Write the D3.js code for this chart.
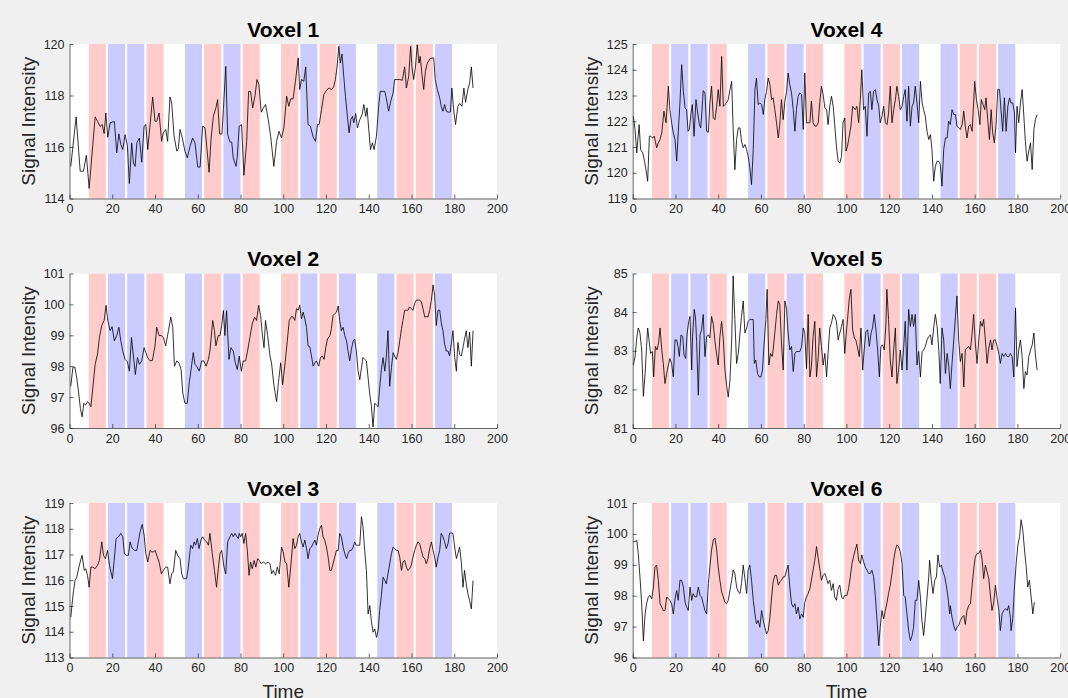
<!DOCTYPE html>
<html>
<head>
<meta charset="utf-8">
<script src="https://cdn.jsdelivr.net/npm/d3@7"></script>
<style>
  body { margin: 0; background: #f0f0f0; }
  svg { display: block; font-family: "Liberation Sans", Arial, Helvetica, sans-serif; }
</style>
</head>
<body>
<div id="chart"></div>
<script>
// panel titles and y axis settings (voxels 1-3 left column, 4-6 right column)
var titles = ["Voxel 1", "Voxel 2", "Voxel 3", "Voxel 4", "Voxel 5", "Voxel 6"];
var yDomains = [[114, 120], [96, 101], [113, 119], [119, 125], [81, 85], [96, 101]];
var yTicks = [
  [114, 116, 118, 120],
  [96, 97, 98, 99, 100, 101],
  [113, 114, 115, 116, 117, 118, 119],
  [119, 120, 121, 122, 123, 124, 125],
  [81, 82, 83, 84, 85],
  [96, 97, 98, 99, 100, 101]
];
var timeDomain = [0, 200];
var timeTicks = [0, 20, 40, 60, 80, 100, 120, 140, 160, 180, 200];

// stimulus blocks: start time, length and condition ("r" = red, "b" = blue)
var blockStarts = [9, 18, 27, 36, 54, 63, 72, 81, 99, 108, 117, 126, 144, 153, 162, 171];
var blockTypes = ["r", "b", "b", "r", "b", "r", "b", "r", "r", "b", "r", "b", "b", "r", "r", "b"];
var blockLength = 8;

// time series, [time, signal] pairs
var voxel1 = [[0.6,115.25],[3.1,117.17],[5.0,115.06],[6.5,115.06],[7.9,115.68],[9.2,114.39],[12.0,117.17],[13.1,117.0],[14.3,116.8],[15.3,116.87],[16.2,116.52],[17.0,117.32],[17.9,116.38],[19.0,116.94],[21.0,116.99],[22.1,115.77],[23.1,116.51],[24.0,116.1],[24.9,115.9],[26.0,116.48],[27.1,116.03],[28.0,114.58],[29.1,116.16],[29.9,115.38],[30.7,115.25],[31.5,116.16],[32.7,116.35],[33.8,115.41],[34.9,116.81],[35.7,116.87],[36.6,115.9],[37.7,116.87],[38.9,117.94],[40.0,117.0],[40.8,117.0],[41.9,117.32],[43.1,116.22],[43.9,116.55],[45.0,116.68],[45.9,116.22],[47.0,117.94],[47.8,117.71],[48.9,116.44],[50.2,115.84],[50.9,115.93],[51.7,116.68],[52.8,116.35],[54.0,115.84],[55.1,115.58],[56.4,116.03],[57.6,116.35],[58.7,116.16],[60.0,115.22],[61.1,115.22],[62.3,116.81],[63.4,116.74],[64.2,116.03],[65.3,115.02],[66.2,116.29],[67.3,117.19],[68.5,117.52],[69.3,117.84],[70.2,116.51],[71.3,116.5],[72.0,117.45],[73.1,119.13],[74.0,116.48],[75.1,116.19],[75.9,116.19],[76.6,115.58],[77.9,115.25],[78.5,115.64],[79.4,116.81],[80.5,116.87],[81.6,114.9],[82.9,116.22],[83.8,118.16],[84.7,118.16],[85.7,117.52],[86.8,118.0],[87.7,118.62],[88.6,118.42],[89.7,117.35],[90.7,117.52],[91.7,117.65],[93.0,117.06],[94.1,116.42],[95.6,115.25],[96.9,116.22],[98.0,116.61],[99.2,116.35],[100.3,116.74],[101.6,117.97],
  [102.6,117.58],[103.5,117.87],[104.6,117.87],[105.7,118.55],[107.0,119.46],[107.7,118.23],[108.5,118.62],[109.6,118.55],[110.5,119.11],[111.6,116.87],[112.7,116.81],[114.0,116.38],[115.1,116.22],[116.0,116.87],[116.8,116.87],[117.9,117.45],[119.0,118.03],[119.9,118.16],[120.5,118.23],[121.5,118.29],[122.5,118.23],[123.6,118.33],[124.4,118.62],[125.2,119.13],[126.0,119.91],[126.7,119.26],[127.5,119.61],[128.3,118.75],[129.1,117.97],[130.0,117.19],[130.8,116.55],[131.6,117.06],[132.4,117.19],[133.0,116.94],[133.9,117.3],[134.7,116.74],[135.8,117.06],[136.9,117.26],[137.7,117.65],[138.6,117.19],[139.2,117.52],[140.0,116.68],[140.8,115.9],[141.7,116.16],[142.5,115.9],[143.6,116.42],[144.7,117.65],[145.4,118.16],[147.5,118.16],[148.2,117.9],[149.3,117.39],[150.3,117.78],[151.4,118.1],[152.1,118.62],[153.2,118.62],[154.5,118.62],[155.7,118.59],[156.8,119.11],[157.6,118.29],[158.7,118.75],[159.6,119.91],[160.2,119.13],[161.0,118.62],[161.8,119.07],[162.7,119.97],[163.5,119.26],[164.1,119.52],[164.9,118.81],[165.7,118.23],[166.5,118.94],[167.4,119.26],[168.8,119.44],[170.4,119.46],[171.1,118.62],[172.1,118.23],[173.2,117.9],[173.9,117.58],[174.7,117.39],[175.5,117.65],[176.3,117.39],[177.4,117.35],[178.2,117.36],[178.9,118.29],[179.7,117.45],[180.6,116.87],[181.7,117.58],[182.5,117.69],[183.6,117.58],[184.5,118.29],[185.3,117.74],[186.4,118.25],[187.2,118.49],[188.0,119.11],[188.8,118.29]];

var voxel2 = [[0.6,97.35],[1.6,97.97],[2.5,97.97],[3.4,97.62],[4.4,97.07],[5.1,96.63],[5.9,96.36],[6.7,96.8],[7.5,96.74],[8.4,96.85],[9.2,96.8],[10.0,96.69],[10.9,97.29],[12.0,98.06],[13.1,98.39],[14.0,98.93],[15.1,99.32],[16.2,99.48],[17.1,99.97],[17.9,99.48],[19.0,99.15],[19.9,99.28],[21.0,98.82],[22.1,98.99],[23.1,99.26],[24.0,98.82],[24.9,98.49],[26.0,98.22],[27.1,98.14],[28.0,97.84],[29.0,98.93],[29.9,98.33],[30.8,97.73],[31.8,98.28],[32.7,98.06],[33.8,98.17],[34.9,98.6],[35.7,98.44],[36.6,98.28],[37.7,98.17],[38.8,98.19],[40.0,98.66],[40.8,99.26],[41.9,98.99],[43.1,98.99],[43.9,98.93],[45.0,98.66],[46.3,99.15],[47.4,99.59],[48.3,99.26],[49.1,98.0],[50.2,98.17],[51.2,98.11],[52.2,97.89],[53.0,97.13],[54.0,96.8],[55.1,96.8],[56.1,97.51],[57.2,98.06],[57.9,98.44],[58.7,98.06],[59.5,98.0],[60.7,97.84],[61.8,98.17],[62.9,98.17],[63.9,98.0],[65.0,98.22],[65.7,98.49],[67.0,99.48],[67.8,99.15],[68.5,98.66],[69.6,98.99],[70.4,98.99],[71.2,99.32],[72.0,99.8],[72.7,98.99],[73.5,99.8],[74.6,98.22],[75.5,98.6],[76.6,98.49],[77.6,98.11],[78.5,97.89],[79.4,98.33],[80.4,97.84],[81.3,98.17],[82.4,98.17],[83.3,98.49],[84.4,98.93],[85.5,99.37],[86.6,99.59],[87.5,99.48],[88.5,99.97],[89.4,99.64],[90.2,99.04],[91.0,98.6],[91.7,99.48],[92.7,98.99],[93.8,98.33],[94.5,98.11],[95.6,97.4],[96.9,96.85],[97.8,97.51],[98.8,98.11],[99.7,97.4],[100.8,98.06],[101.9,98.82],
  [102.8,99.48],[103.9,99.61],[104.6,99.59],[105.4,99.48],[106.2,99.86],[107.0,99.81],[107.7,99.97],[108.5,99.53],[109.3,99.75],[110.1,99.53],[110.9,99.26],[111.6,98.66],[112.4,98.63],[113.2,98.33],[114.0,98.0],[114.8,98.11],[115.5,98.17],[116.6,98.0],[117.4,98.28],[118.3,98.33],[119.1,98.22],[119.9,98.6],[120.7,98.88],[121.8,98.99],[122.5,99.21],[123.3,99.64],[124.1,99.7],[124.9,99.75],[125.7,99.95],[126.4,99.48],[127.2,99.15],[128.0,99.26],[128.8,98.99],[129.6,98.82],[130.3,98.49],[131.1,98.17],[131.9,98.55],[132.7,98.82],[133.4,98.88],[134.2,98.49],[135.0,97.84],[135.8,97.56],[136.6,97.95],[137.3,98.28],[138.1,98.22],[138.9,98.17],[139.7,97.62],[140.5,97.07],[141.2,96.74],[142.0,96.03],[142.8,96.8],[143.6,96.74],[144.4,96.69],[145.1,97.29],[145.9,97.89],[146.7,98.28],[147.5,97.84],[148.2,98.28],[149.0,99.15],[149.8,97.35],[150.6,97.95],[151.4,98.44],[152.1,98.33],[152.9,98.22],[153.7,98.44],[154.5,98.82],[155.3,99.21],[156.0,99.48],[156.8,99.81],[157.6,99.81],[158.4,99.81],[159.1,99.92],[159.9,99.86],[160.7,99.81],[161.5,100.03],[162.3,100.14],[163.0,100.14],[163.8,100.14],[164.6,100.08],[165.4,99.86],[166.2,99.59],[166.9,99.61],[167.7,99.59],[168.5,99.81],[169.3,100.14],[170.1,100.63],[170.8,100.3],[171.6,99.32],[172.4,99.81],[173.2,99.81],[173.9,99.42],[174.7,99.15],[175.5,98.71],[176.3,98.49],[177.1,98.49],[177.8,98.33],[178.6,98.71],[179.4,99.15],[180.2,98.28],[181.0,97.84],[181.7,98.77],[182.5,98.39],[183.3,98.33],[184.1,98.6],[184.8,98.88],[185.6,99.15],[186.4,98.6],[187.2,99.1],[188.0,98.0],[188.8,99.15]];

var voxel3 = [[0.6,114.56],[1.2,115.08],[1.9,115.6],[2.6,115.99],[3.4,116.12],[4.4,116.51],[5.0,116.71],[5.9,116.97],[6.9,116.38],[7.6,116.45],[8.4,116.19],[9.2,115.73],[10.0,116.51],[10.9,116.51],[12.0,116.45],[13.1,116.58],[14.0,116.77],[15.1,117.49],[15.9,116.97],[16.8,116.84],[17.8,117.16],[18.7,116.58],[20.1,116.06],[20.9,116.77],[21.8,117.62],[22.9,117.69],[24.0,117.82],[24.9,117.69],[25.7,117.03],[26.5,116.97],[27.6,116.97],[28.3,117.49],[29.4,117.23],[30.5,117.16],[31.5,117.16],[32.2,117.49],[33.0,117.88],[34.0,118.17],[34.9,117.75],[35.7,117.03],[36.6,116.71],[37.7,117.16],[38.5,117.1],[39.3,117.1],[40.0,117.16],[40.8,116.97],[41.9,116.71],[43.0,116.25],[43.9,116.38],[45.0,116.51],[45.9,116.51],[47.0,115.86],[47.8,116.25],[48.6,116.32],[49.7,117.16],[50.6,116.97],[51.7,116.84],[52.5,116.25],[53.3,116.06],[54.0,116.06],[54.8,116.06],[55.6,116.51],[56.7,117.36],[57.6,117.23],[58.3,117.49],[59.0,117.36],[59.8,117.62],[60.6,117.23],[61.5,117.56],[62.3,117.69],[63.2,117.56],[64.2,117.49],[65.0,117.36],[65.7,117.82],[66.8,117.03],[67.8,116.38],[68.8,115.73],[69.6,116.45],[70.4,117.03],[71.2,117.16],[72.3,116.51],[73.1,116.25],[74.0,117.49],[75.1,117.69],[75.9,117.82],[76.6,117.69],[77.4,117.82],[78.2,117.71],[79.0,117.62],[79.4,117.82],[80.1,117.69],[80.8,117.82],[81.6,117.43],[82.4,117.82],[83.2,117.16],[84.0,116.19],[84.7,116.71],[85.5,116.45],[86.4,116.77],[87.2,116.51],[88.0,116.84],[88.8,116.77],[89.7,116.64],[90.7,116.71],[91.7,116.64],[93.0,116.71],[93.8,116.64],[94.6,116.25],[95.3,116.38],[96.4,116.19],[97.2,116.51],[98.1,116.25],[99.2,117.29],[100.0,117.1],[100.8,116.71],[101.6,116.64],
  [102.6,115.73],[103.5,116.51],[104.6,117.62],[105.4,117.23],[106.2,117.36],[107.0,117.69],[107.7,117.82],[108.5,117.49],[109.3,117.29],[110.1,117.56],[110.9,117.23],[111.6,116.84],[112.4,117.23],[113.2,117.29],[114.0,117.43],[114.8,117.56],[115.5,117.36],[116.3,117.75],[117.1,118.01],[117.9,118.14],[118.6,117.69],[119.4,117.56],[120.2,117.29],[121.0,116.9],[121.8,116.38],[122.5,116.38],[123.3,116.64],[124.1,116.9],[124.9,117.16],[125.7,117.16],[126.4,117.82],[127.2,117.69],[128.0,117.29],[128.8,117.03],[129.6,116.84],[130.3,117.03],[131.1,117.16],[131.9,117.16],[132.7,117.29],[133.4,117.49],[134.2,117.36],[135.0,117.36],[135.8,117.36],[136.6,118.47],[137.3,118.08],[138.1,117.16],[138.9,116.38],[139.7,114.69],[140.5,115.02],[141.2,114.43],[142.0,113.98],[142.8,114.11],[143.6,113.78],[144.4,114.04],[145.1,114.82],[145.9,115.41],[146.7,116.12],[147.5,115.99],[148.2,115.86],[149.0,116.25],[149.8,116.64],[150.6,117.03],[151.4,117.29],[152.1,117.23],[152.9,117.16],[153.7,117.16],[154.5,116.9],[155.3,116.38],[156.0,116.71],[156.8,116.77],[157.6,116.51],[158.4,116.38],[159.1,116.45],[159.9,116.58],[160.7,116.9],[161.5,117.16],[162.3,117.36],[163.0,117.49],[163.8,117.43],[164.6,117.16],[165.4,116.9],[166.2,116.84],[166.9,116.64],[167.7,116.84],[168.5,117.23],[169.3,117.49],[170.1,117.16],[170.8,116.9],[171.6,116.51],[172.4,116.9],[173.2,117.16],[173.9,117.82],[174.7,117.69],[175.5,117.49],[176.3,117.23],[177.1,117.43],[177.8,117.82],[178.6,117.84],[179.4,117.82],[180.2,117.29],[181.0,116.84],[181.7,117.03],[182.5,117.29],[183.3,116.71],[184.1,115.73],[184.8,116.38],[185.6,115.86],[186.4,115.47],[187.2,115.21],[188.0,114.89],[188.8,115.99]];

var voxel4 = [[0.3,122.19],[1.1,121.68],[1.9,120.77],[3.0,121.87],[3.7,120.9],[4.7,120.77],[5.5,120.45],[6.2,120.12],[7.0,119.67],[7.8,121.42],[8.4,121.42],[9.3,121.35],[10.1,121.42],[11.2,120.97],[12.0,121.16],[12.8,121.29],[13.6,121.55],[14.6,122.39],[15.6,121.94],[16.7,123.36],[17.4,122.45],[18.2,121.94],[19.0,121.55],[19.8,121.29],[20.6,120.45],[21.3,121.55],[22.1,122.71],[22.9,124.2],[23.7,123.16],[24.5,122.52],[25.2,122.45],[25.9,121.61],[26.5,121.68],[27.3,122.32],[27.9,122.65],[28.7,121.42],[29.6,122.84],[30.4,122.32],[31.2,121.87],[31.8,121.74],[32.4,122.39],[33.0,123.19],[33.8,123.1],[34.6,121.61],[35.4,121.57],[36.1,122.71],[36.9,123.36],[37.7,122.13],[38.5,122.06],[39.3,122.58],[40.0,123.23],[40.8,122.58],[41.6,124.52],[42.4,122.58],[43.1,122.65],[43.9,122.71],[44.7,122.84],[45.5,123.23],[46.3,123.55],[47.0,121.68],[47.8,120.12],[48.6,121.29],[49.4,121.74],[50.2,121.74],[50.9,121.22],[51.7,120.97],[52.5,121.1],[53.3,120.9],[54.0,120.64],[54.8,120.19],[55.6,119.54],[56.4,120.9],[57.2,123.23],[57.9,123.68],[58.7,122.65],[59.5,122.71],[60.3,122.65],[61.1,122.26],[61.8,122.84],[62.6,123.16],[63.4,123.68],[64.2,123.42],[65.0,122.84],[65.7,122.91],[66.5,122.45],[67.3,121.94],[68.1,121.35],[68.8,121.87],[69.6,122.84],[70.4,122.06],[71.2,122.78],[72.0,123.16],[72.7,123.87],[73.5,123.42],[74.3,123.1],[75.1,122.45],[75.9,121.61],[76.6,122.45],[77.4,122.97],[78.2,123.1],[79.0,123.03],[79.8,121.68],[80.5,123.87],[81.3,121.94],[82.1,121.94],[82.9,121.94],[83.6,122.78],[84.4,121.94],[85.2,121.81],[86.0,121.81],[86.8,121.94],[87.5,122.71],[88.3,123.36],[89.1,123.03],[89.9,122.52],[90.7,122.45],[91.4,121.87],[92.2,122.58],[93.0,122.97],[93.8,122.58],[94.5,121.87],[95.3,121.03],[96.1,120.45],[96.9,120.38],[97.7,120.64],[98.4,121.94],[99.2,122.13],
  [99.8,120.84],[100.5,121.03],[101.3,121.42],[102.1,121.81],[102.9,122.58],[104.1,122.45],[104.9,122.58],[105.7,121.94],[106.5,122.84],[107.2,124.0],[108.0,122.45],[108.8,122.58],[109.6,121.42],[110.4,123.1],[111.2,123.16],[111.9,122.45],[112.7,123.16],[113.5,123.23],[114.3,122.84],[115.1,122.58],[115.8,121.94],[116.6,122.19],[117.4,122.58],[118.2,121.94],[119.0,121.87],[119.7,122.32],[120.5,123.36],[121.3,121.94],[122.1,122.45],[122.9,122.84],[123.6,123.36],[124.4,122.97],[125.2,122.45],[126.0,122.58],[126.8,122.97],[127.5,123.23],[128.3,122.0],[129.1,123.36],[129.9,121.81],[130.7,122.58],[131.4,122.71],[132.2,123.36],[133.0,122.71],[133.8,121.94],[134.6,123.55],[135.4,122.71],[136.1,122.45],[136.9,122.19],[137.7,121.61],[138.5,121.29],[139.3,121.48],[140.0,120.9],[140.8,119.67],[141.6,120.25],[142.4,120.45],[143.2,120.45],[143.9,120.32],[144.7,119.48],[145.5,120.9],[146.3,121.35],[147.1,121.35],[147.8,122.0],[148.6,121.87],[149.4,122.45],[150.2,122.26],[151.0,122.26],[151.7,121.81],[152.5,121.74],[153.3,121.68],[154.1,121.87],[154.9,122.39],[155.6,121.81],[156.4,121.35],[157.2,121.81],[158.0,121.87],[158.8,121.61],[159.5,122.71],[160.0,123.55],[160.8,122.84],[161.6,122.45],[162.4,121.87],[163.1,122.84],[163.9,122.65],[164.7,122.45],[165.3,122.91],[166.1,122.06],[166.9,121.29],[167.7,122.45],[168.4,121.55],[169.2,121.16],[170.0,121.87],[170.8,123.23],[171.6,123.23],[172.3,122.45],[173.1,121.61],[173.9,122.91],[174.7,121.61],[175.5,122.58],[176.3,122.91],[177.0,122.71],[177.8,122.71],[178.6,122.32],[179.1,120.77],[179.8,122.58],[180.6,121.94],[181.4,122.71],[182.2,123.23],[183.0,122.19],[183.7,121.22],[184.5,120.45],[185.3,120.84],[186.1,121.16],[186.9,120.12],[187.7,121.68],[188.4,122.06],[189.2,122.26]];

var voxel5 = [[0.3,82.63],[1.1,82.85],[1.9,83.33],[2.6,83.59],[3.4,83.46],[4.2,83.02],[5.0,81.82],[5.8,82.41],[6.5,83.11],[7.0,83.59],[7.8,83.2],[8.4,82.93],[9.2,82.98],[9.8,82.32],[10.6,83.11],[11.4,83.02],[12.1,83.2],[12.8,83.59],[13.6,83.02],[14.3,82.67],[15.1,82.15],[15.9,82.41],[16.7,82.63],[17.4,82.8],[18.2,82.67],[19.0,82.32],[19.8,83.28],[20.6,83.28],[21.2,83.11],[21.8,82.85],[22.6,83.41],[23.4,83.37],[24.0,82.89],[24.8,82.8],[25.4,83.41],[26.2,83.76],[26.8,83.89],[27.6,82.5],[28.0,83.37],[28.8,84.07],[29.4,83.85],[29.9,83.24],[30.7,81.85],[31.5,83.41],[32.2,83.54],[33.0,83.94],[33.8,82.85],[34.6,83.37],[35.4,83.41],[36.1,83.33],[36.9,83.89],[37.7,83.68],[38.5,83.24],[39.3,82.89],[40.0,82.63],[40.8,83.37],[41.6,83.76],[42.4,83.28],[43.1,82.54],[43.9,82.11],[44.7,81.8],[45.5,82.24],[46.3,83.28],[47.0,84.94],[47.8,83.81],[48.6,82.67],[49.4,82.93],[50.2,83.46],[50.9,83.89],[51.7,84.29],[52.5,83.46],[53.3,83.59],[54.0,83.76],[54.8,83.81],[55.6,83.81],[56.4,83.81],[56.9,82.67],[57.6,82.76],[58.4,82.41],[59.2,82.32],[60.0,82.32],[60.7,82.5],[61.5,83.2],[62.3,83.81],[62.9,84.59],[63.7,82.63],[64.5,82.93],[65.3,82.85],[65.7,83.02],[66.5,83.46],[67.3,83.94],[68.1,84.29],[68.8,84.2],[69.6,83.2],[70.4,82.5],[71.2,84.29],[72.0,84.07],[72.7,83.46],[73.5,83.02],[74.3,83.11],[75.1,82.46],[75.9,82.93],[76.6,82.98],[77.4,82.98],[78.2,82.98],[79.0,83.11],[79.8,83.59],[80.5,83.46],[81.3,82.54],[82.1,83.94],[82.9,82.32],[83.6,82.59],[84.4,83.37],[85.2,83.76],[86.0,82.32],[86.8,82.85],[87.5,83.59],[88.3,83.11],[89.1,82.63],[89.9,82.93],[90.7,82.32],[91.4,82.93],[92.2,83.59],[93.0,83.72],[93.8,83.94],[94.5,83.89],[95.3,83.76],[96.1,83.28],[96.9,83.46],[97.7,83.63],[98.4,83.81],[99.2,82.93],
  [99.8,83.37],[100.5,83.81],[101.3,84.33],[102.1,84.59],[102.9,83.54],[103.7,83.33],[104.4,83.28],[105.2,83.07],[106.0,82.85],[106.8,83.59],[107.6,82.5],[108.3,83.02],[109.1,83.5],[109.9,83.54],[110.7,83.11],[111.5,83.46],[112.2,83.59],[113.0,83.94],[113.8,83.54],[114.6,83.02],[115.4,82.32],[116.1,83.11],[116.9,83.15],[117.7,83.02],[118.5,83.72],[118.9,84.59],[119.7,83.81],[120.5,82.76],[121.3,82.32],[122.1,83.02],[122.9,83.59],[123.6,82.15],[124.4,82.5],[125.2,83.02],[126.0,82.5],[126.8,83.11],[127.5,83.76],[128.3,82.5],[129.1,84.07],[129.9,83.63],[130.7,83.94],[131.4,83.63],[132.2,83.94],[133.0,82.63],[133.8,82.98],[134.6,82.32],[135.4,82.98],[136.1,83.02],[136.9,83.11],[137.7,83.28],[138.5,83.37],[139.3,83.41],[140.0,83.15],[140.8,83.59],[141.6,83.94],[142.4,83.63],[143.2,83.02],[143.9,82.15],[144.7,83.59],[145.5,83.28],[146.3,82.41],[147.1,82.93],[147.8,82.63],[148.6,82.02],[149.4,82.67],[150.2,83.28],[151.0,83.89],[151.7,84.42],[152.5,83.28],[153.3,82.72],[154.1,82.93],[154.9,82.06],[155.6,83.02],[156.4,83.07],[157.2,83.11],[158.0,83.02],[158.8,83.46],[159.5,83.94],[160.3,83.2],[161.1,82.67],[161.9,83.28],[162.7,83.76],[163.5,83.63],[164.2,83.81],[165.0,83.28],[165.8,82.67],[166.6,83.07],[167.4,83.28],[168.1,83.02],[168.9,83.28],[169.7,83.28],[170.5,83.11],[171.3,82.93],[172.0,82.67],[172.8,82.93],[173.6,82.85],[174.4,82.93],[175.2,82.85],[175.9,82.85],[176.7,82.93],[177.5,82.85],[178.3,82.32],[179.1,84.11],[179.8,82.59],[180.6,83.02],[181.4,83.28],[182.2,82.85],[183.0,82.02],[183.7,82.46],[184.5,82.37],[185.3,82.85],[186.1,83.02],[186.9,83.15],[187.7,83.46],[188.4,82.89],[189.2,82.5]];

var voxel6 = [[0.3,99.75],[1.1,99.75],[1.9,99.8],[2.6,99.37],[3.4,98.61],[4.2,97.74],[5.0,96.54],[5.8,97.41],[6.5,97.74],[7.3,97.96],[8.1,98.01],[8.9,97.9],[9.7,98.28],[10.4,98.93],[11.2,98.99],[12.0,98.5],[12.8,97.74],[13.6,97.63],[14.3,97.52],[15.1,97.52],[15.9,97.96],[16.7,97.9],[17.4,97.85],[18.2,97.74],[19.0,97.41],[19.8,97.9],[20.6,98.17],[21.3,97.85],[22.1,98.5],[22.9,98.5],[23.7,98.28],[24.5,97.79],[25.2,97.63],[26.0,97.52],[26.8,98.28],[27.6,97.85],[28.3,98.07],[29.1,97.96],[29.9,97.96],[30.7,98.28],[31.5,98.01],[32.2,97.96],[33.0,97.74],[33.8,97.52],[34.6,97.41],[35.4,98.39],[36.1,98.93],[36.9,99.48],[37.7,99.8],[38.5,99.86],[39.3,99.48],[40.0,98.93],[40.8,98.5],[41.6,98.12],[42.4,97.96],[43.1,97.79],[43.9,97.74],[44.7,97.85],[45.5,98.17],[46.3,98.5],[47.0,98.83],[47.8,98.72],[48.6,98.28],[49.4,98.12],[50.2,98.07],[50.9,98.39],[51.7,98.99],[52.5,98.55],[53.3,98.07],[54.0,98.83],[54.8,98.99],[55.6,98.5],[56.4,97.85],[57.2,97.41],[57.9,97.09],[58.7,97.2],[59.5,96.98],[60.3,97.52],[61.1,97.2],[61.8,96.98],[62.6,96.76],[63.4,96.87],[64.2,97.3],[65.0,97.96],[65.7,98.45],[66.5,98.66],[67.3,98.66],[68.1,98.34],[68.8,98.45],[69.6,98.5],[70.4,98.61],[71.2,98.61],[72.0,98.83],[72.7,98.99],[73.5,98.28],[74.3,97.74],[75.1,97.63],[75.9,97.74],[76.6,97.41],[77.4,97.63],[78.2,97.25],[79.0,97.41],[79.8,97.3],[80.5,97.79],[81.3,97.96],[82.1,98.07],[82.9,98.23],[83.6,98.5],[84.4,98.83],[85.2,99.15],[86.0,99.59],[86.8,99.21],[87.5,98.88],[88.3,98.5],[89.1,98.66],[89.9,98.72],[90.7,98.55],[91.4,98.39],[92.2,98.5],[93.0,98.17],[93.8,98.39],[94.5,97.96],[95.3,97.85],[96.1,98.23],[96.9,98.34],[97.7,97.96],[98.4,97.9],[99.2,98.01],
  [100.2,98.01],[101.0,98.23],[101.8,98.61],[102.6,99.04],[103.3,99.26],[104.1,99.48],[104.9,99.67],[105.7,99.15],[106.5,99.04],[107.2,99.32],[108.0,99.1],[108.8,98.93],[109.6,98.83],[110.4,98.72],[111.2,98.72],[111.9,98.83],[112.7,98.61],[113.5,98.01],[114.3,97.2],[115.1,96.38],[115.8,96.98],[116.6,97.52],[117.4,97.25],[118.2,97.52],[119.0,97.79],[119.7,98.07],[120.5,98.34],[121.3,98.72],[122.1,99.15],[122.9,99.48],[123.6,99.64],[124.4,99.59],[125.2,99.42],[126.0,99.04],[126.8,98.01],[127.5,97.96],[128.3,97.41],[129.1,96.87],[129.9,96.54],[130.7,96.71],[131.4,96.98],[132.2,97.85],[133.0,97.85],[133.8,98.5],[134.6,97.96],[135.3,97.2],[136.1,96.71],[136.9,97.3],[137.7,97.96],[138.5,98.61],[138.9,99.15],[139.7,98.5],[140.5,98.07],[141.3,98.5],[142.1,98.61],[142.8,99.32],[143.6,98.93],[144.4,98.99],[145.2,98.77],[146.0,98.61],[146.7,98.34],[147.5,97.96],[148.3,97.41],[148.6,97.68],[149.4,97.3],[150.2,97.03],[151.0,96.87],[151.7,96.98],[152.5,97.03],[153.3,97.2],[154.1,97.3],[154.9,97.36],[155.6,97.07],[156.4,97.52],[157.2,97.68],[158.0,97.74],[158.8,98.34],[159.5,98.83],[160.3,99.26],[161.1,99.37],[161.9,99.37],[162.7,99.48],[163.5,99.15],[164.2,98.55],[165.0,98.99],[165.8,98.77],[166.6,98.55],[167.4,97.96],[168.1,97.52],[168.9,97.79],[169.7,98.34],[170.5,97.9],[171.3,97.52],[172.0,96.87],[172.8,97.41],[173.6,97.52],[174.4,97.58],[175.2,97.52],[175.9,97.68],[176.7,97.3],[177.0,96.87],[177.8,97.25],[178.6,98.28],[179.4,99.04],[180.2,99.64],[181.0,99.91],[181.7,100.46],[182.5,100.13],[183.3,99.48],[184.1,98.93],[184.8,98.28],[185.6,98.5],[186.4,97.96],[187.2,97.41],[187.9,97.79]];

var voxelSeries = [voxel1, voxel2, voxel3, voxel4, voxel5, voxel6];

// layout of the six axes (pixels)
var width = 1068, height = 698;
var colLeft = [69.5, 632.7];
var rowTop = [44, 273.5, 503];
var plotW = 427.5, plotH = 154.5;
var blockColors = { r: "#ffcbcb", b: "#cbcbff" };
var axisColor = "#262626";

/**
 * builds the figure: one panel per voxel
 */
function renderFigure(container) {
  var svg = d3.select(container).append("svg")
    .attr("width", width).attr("height", height);

  // figure background
  svg.append("rect").attr("width", width).attr("height", height).attr("fill", "#f0f0f0");

  for (var i = 0; i < voxelSeries.length; i++)
    renderPanel(svg, i);
}

/**
 * draws one voxel panel: blocks, signal, axes, labels
 */
function renderPanel(svg, i) {
  var col = Math.floor(i / 3), row = i % 3;
  var g = svg.append("g")
    .attr("transform", "translate(" + colLeft[col] + "," + rowTop[row] + ")");

  var x = d3.scaleLinear().domain(timeDomain).range([0, plotW]);
  var y = d3.scaleLinear().domain(yDomains[i]).range([plotH, 0]);

  // white axes area
  g.append("rect").attr("width", plotW).attr("height", plotH).attr("fill", "#ffffff");

  // stimulus blocks
  g.selectAll("rect.block").data(blockStarts).enter().append("rect")
    .attr("class", "block")
    .attr("x", function (d) { return x(d); })
    .attr("width", function (d) { return x(d + blockLength) - x(d); })
    .attr("y", 0).attr("height", plotH)
    .attr("fill", function (d, j) { return blockColors[blockTypes[j]]; });

  // the signal
  var line = d3.line()
    .x(function (d) { return x(d[0]); })
    .y(function (d) { return y(d[1]); });
  g.append("path").datum(voxelSeries[i])
    .attr("d", line)
    .attr("fill", "none").attr("stroke", "#000").attr("stroke-width", 0.8)
    .attr("stroke-linejoin", "round");

  // axes with inward ticks, integer labels
  var xAxis = g.append("g").attr("transform", "translate(0," + plotH + ")")
    .call(d3.axisBottom(x).tickValues(timeTicks).tickFormat(d3.format("d"))
      .tickSizeInner(-4).tickSizeOuter(0).tickPadding(6));
  var yAxis = g.append("g")
    .call(d3.axisLeft(y).tickValues(yTicks[i]).tickFormat(d3.format("d"))
      .tickSizeInner(-4).tickSizeOuter(0).tickPadding(5));

  [xAxis, yAxis].forEach(function (a) {
    a.select(".domain").attr("stroke", axisColor).attr("stroke-width", 0.7);
    a.selectAll(".tick line").attr("stroke", axisColor).attr("stroke-width", 0.7);
    a.selectAll(".tick text").attr("fill", axisColor)
      .attr("font-size", "12.5px").attr("font-family", "Liberation Sans, Arial, sans-serif");
  });

  // title
  g.append("text").attr("x", plotW / 2).attr("y", -7.5)
    .attr("text-anchor", "middle").attr("font-size", "21px").attr("font-weight", "bold")
    .attr("fill", "#000").text(titles[i]);

  // y label
  g.append("text")
    .attr("transform", "translate(-35," + (plotH / 2) + ") rotate(-90)")
    .attr("text-anchor", "middle").attr("font-size", "19px")
    .attr("fill", axisColor).text("Signal Intensity");

  // x label only under the bottom row
  if (row == 2)
    g.append("text").attr("x", plotW / 2).attr("y", height - rowTop[row])
      .attr("text-anchor", "middle").attr("font-size", "19px")
      .attr("fill", axisColor).text("Time");
}

renderFigure("#chart");
</script>
</body>
</html>
